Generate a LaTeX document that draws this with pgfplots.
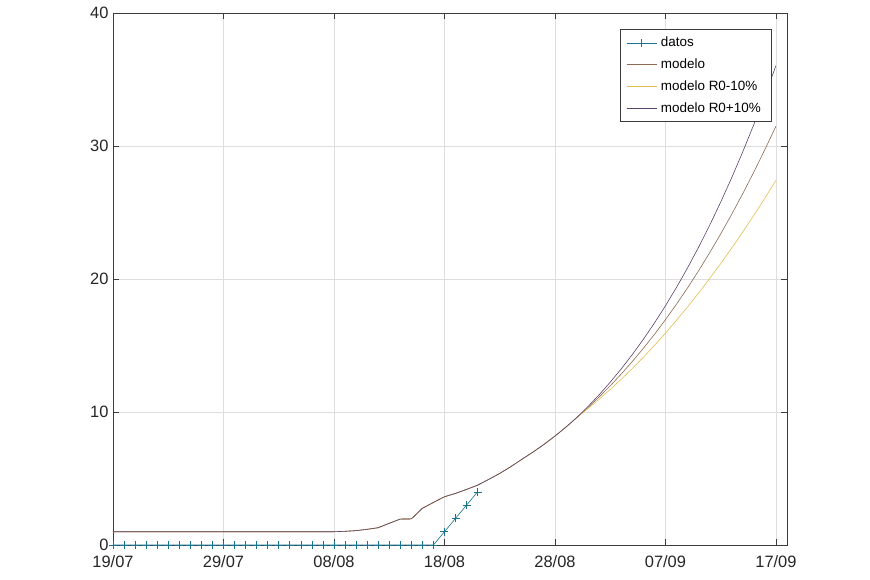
\documentclass[border=0pt]{standalone}
\usepackage{pgfplots}
\pgfplotsset{compat=1.18}
\usepackage{fontspec}
\setmainfont{Liberation Sans}
\definecolor{datc}{RGB}{25,115,140}
\definecolor{modc}{RGB}{140,105,80}
\definecolor{minc}{RGB}{225,190,80}
\definecolor{maxc}{RGB}{90,65,110}
\definecolor{axc}{RGB}{60,60,60}
\begin{document}
\begin{tikzpicture}
\useasboundingbox (-113bp,-35bp) rectangle (757bp,545bp);
\begin{axis}[
  at={(0,0)}, anchor=south west, scale only axis,
  width=674bp, height=532bp,
  xmin=0, xmax=61, ymin=0, ymax=40,
  xtick={0,10,20,30,40,50,60},
  xticklabels={19/07,29/07,08/08,18/08,28/08,07/09,17/09},
  ytick={0,10,20,30,40},
  grid=major,
  major grid style={draw=black!13, line width=0.5bp},
  axis line style={draw=axc, line width=0.6bp},
  tick align=inside, major tick length=6bp,
  tick style={draw=axc, line width=0.5bp},
  ticklabel style={font=\fontsize{16.5}{19}\selectfont, text=black!85},
  xticklabel style={yshift=-7bp},
  yticklabel style={xshift=-1bp},
  /pgf/number format/assume math mode=true,
  legend cell align=left,
  legend style={at={(1,1)}, anchor=north east, xshift=-16bp, yshift=-16bp,
    font=\fontsize{13.5}{16}\selectfont, draw=axc, line width=0.5bp,
    row sep=6.5bp, inner xsep=6bp, inner ysep=6bp,
    nodes={inner xsep=4bp}},
  legend image code/.code={\draw[mark repeat=2,mark phase=2,#1] plot coordinates {(0bp,0bp)(15bp,0bp)(30bp,0bp)};},
]
\addplot[datc, line width=0.6bp, mark=+, mark size=4bp, mark options={line width=0.6bp}] coordinates {
(0,0)(1,0)(2,0)(3,0)(4,0)(5,0)(6,0)(7,0)(8,0)(9,0)(10,0)(11,0)(12,0)(13,0)(14,0)(15,0)(16,0)(17,0)(18,0)(19,0)(20,0)(21,0)(22,0)(23,0)(24,0)(25,0)(26,0)(27,0)(28,0)(29,0)(30,1)(31,2)(32,3)(33,4)};
\addlegendentry{datos}
\addplot[modc, line width=0.6bp] coordinates {
(0,1)(19,1)(20,1.00)(21,1.03)(22,1.08)(23,1.18)(24,1.30)(25,1.63)(26,1.95)(27,1.96)(28,2.76)(29,3.20)(30,3.63)(31,3.88)(32,4.18)(33,4.50)(34,4.93)(35,5.38)(36,5.89)(37,6.44)(38,6.98)(39,7.56)(40,8.19)(41,8.87)(42,9.60)
(43,10.343)(44,11.132)(45,11.969)(46,12.856)(47,13.795)(48,14.788)(49,15.836)(50,16.942)(51,18.107)(52,19.333)(53,20.621)(54,21.973)(55,23.390)(56,24.874)(57,26.425)(58,28.045)(59,29.735)(60,31.495)};
\addlegendentry{modelo}
\addplot[minc, line width=0.6bp] coordinates {
(0,1)(19,1)(20,1.00)(21,1.03)(22,1.08)(23,1.18)(24,1.30)(25,1.63)(26,1.95)(27,1.96)(28,2.76)(29,3.20)(30,3.63)(31,3.88)(32,4.18)(33,4.50)(34,4.93)(35,5.38)(36,5.89)(37,6.44)(38,6.98)(39,7.56)(40,8.19)(41,8.87)(42,9.60)
(43,10.263)(44,10.961)(45,11.695)(46,12.465)(47,13.273)(48,14.119)(49,15.004)(50,15.929)(51,16.894)(52,17.899)(53,18.945)(54,20.032)(55,21.160)(56,22.330)(57,23.541)(58,24.793)(59,26.085)(60,27.417)};
\addlegendentry{modelo R0-10\%}
\addplot[maxc, line width=0.6bp] coordinates {
(0,1)(19,1)(20,1.00)(21,1.03)(22,1.08)(23,1.18)(24,1.30)(25,1.63)(26,1.95)(27,1.96)(28,2.76)(29,3.20)(30,3.63)(31,3.88)(32,4.18)(33,4.50)(34,4.93)(35,5.38)(36,5.89)(37,6.44)(38,6.98)(39,7.56)(40,8.19)(41,8.87)(42,9.60)
(43,10.420)(44,11.299)(45,12.240)(46,13.246)(47,14.321)(48,15.467)(49,16.688)(50,17.988)(51,19.370)(52,20.837)(53,22.393)(54,24.041)(55,25.784)(56,27.626)(57,29.570)(58,31.619)(59,33.776)(60,36.044)};
\addlegendentry{modelo R0+10\%}
\end{axis}
\end{tikzpicture}
\end{document}
